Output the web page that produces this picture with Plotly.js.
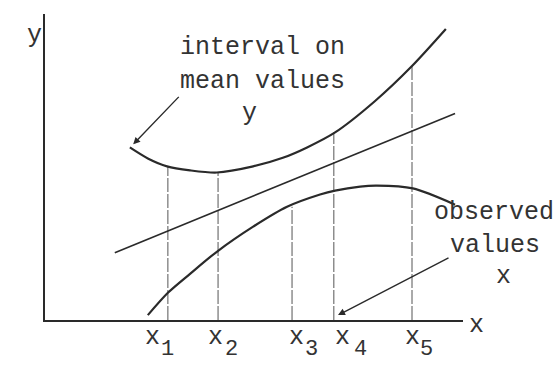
<!DOCTYPE html>
<html>
<head>
<meta charset="utf-8">
<script src="https://cdn.plot.ly/plotly-3.0.1.min.js"></script>
<style>html,body{margin:0;padding:0;background:#fff}#chart{width:559px;height:365px}</style>
</head>
<body>
<div id="chart"></div>
<script>
// ---- data (abstract units: x 0..10, y 0..10) ----
const upperX = [2.03, 2.46, 2.92, 3.47, 4.11, 4.98, 5.69, 6.27, 6.94, 7.89, 8.78, 9.59];
const upperY = [5.64, 5.28, 5.02, 4.89, 4.82, 5.02, 5.30, 5.64, 6.13, 7.15, 8.30, 9.51];
const lowerX = [2.46, 2.94, 3.47, 4.11, 4.98, 5.79, 6.58, 6.94, 7.54, 7.94, 8.80, 9.81];
const lowerY = [0.16, 0.89, 1.51, 2.23, 3.05, 3.70, 4.10, 4.23, 4.36, 4.39, 4.30, 3.77];
const regX = [1.67, 9.81];
const regY = [2.20, 6.75];
const obsX = [2.94, 4.14, 5.91, 6.91, 8.78];
const obsTop = [5.02, 4.82, 3.70, 6.13, 8.30];
const obsLabels = ['1', '2', '3', '4', '5'];

// vertical drop lines built from the arrays
const vx = [], vy = [];
obsX.forEach((x, i) => { vx.push(x, x, null); vy.push(0, obsTop[i], null); });

const ink = '#2a2a2a';
const FONT = {family: 'Liberation Mono, Courier New, monospace', size: 25, color: '#333'};
const SUBFONT = {family: 'Liberation Mono, Courier New, monospace', size: 22, color: '#333'};

const traces = [
  {x: vx, y: vy, mode: 'lines', line: {color: '#555', width: 1, dash: '14px,2px'}, hoverinfo: 'skip'},
  {x: regX, y: regY, mode: 'lines', line: {color: ink, width: 1.6}, hoverinfo: 'skip'},
  {x: upperX, y: upperY, mode: 'lines', line: {color: ink, width: 2.2, shape: 'spline', smoothing: 0.8}, hoverinfo: 'skip'},
  {x: lowerX, y: lowerY, mode: 'lines', line: {color: ink, width: 2.2, shape: 'spline', smoothing: 0.8}, hoverinfo: 'skip'}
];

// paper coordinates (range is 0..10 on both axes)
const P = v => v / 10;
const tickShift = [-15, -3, 4, 9, 0];
const subShift = [0, 13, 19, 27, 14];
const ann = [];
obsX.forEach((x, i) => {
  ann.push({x: P(x), y: P(-0.56), xref: 'paper', yref: 'paper', text: 'x', showarrow: false, xanchor: 'center', yanchor: 'middle', xshift: tickShift[i], font: FONT});
  ann.push({x: P(x), y: P(-0.95), xref: 'paper', yref: 'paper', text: obsLabels[i], showarrow: false, xanchor: 'center', yanchor: 'middle', borderpad: 0, xshift: subShift[i], font: SUBFONT});
});
ann.push(
  {x: P(-0.48), y: P(9.84), xref: 'paper', yref: 'paper', text: 'y', showarrow: false, font: FONT},
  {x: P(10.55), y: P(-0.72), xref: 'paper', yref: 'paper', text: 'x', showarrow: false, font: FONT},
  {x: P(3.18), y: P(9.44), xref: 'paper', yref: 'paper', text: 'interval on', showarrow: false, xanchor: 'left', font: FONT},
  {x: P(3.18), y: P(8.33), xref: 'paper', yref: 'paper', text: 'mean values', showarrow: false, xanchor: 'left', font: FONT},
  {x: P(4.67), y: P(7.30), xref: 'paper', yref: 'paper', text: 'y', showarrow: false, xanchor: 'left', font: FONT},
  {x: P(9.26), y: P(2.98), xref: 'paper', yref: 'paper', text: 'observed', showarrow: false, xanchor: 'left', font: FONT},
  {x: P(9.64), y: P(1.90), xref: 'paper', yref: 'paper', text: 'values', showarrow: false, xanchor: 'left', font: FONT},
  {x: P(10.74), y: P(0.89), xref: 'paper', yref: 'paper', text: 'x', showarrow: false, xanchor: 'left', font: FONT},
  {x: 2.11, y: 5.74, xref: 'x', yref: 'y', text: '', showarrow: true, ax: 47, ay: -49, arrowhead: 2, arrowsize: 1, arrowwidth: 1.4, arrowcolor: ink},
  {x: 7.01, y: 0.16, xref: 'x', yref: 'y', text: '', showarrow: true, ax: 112, ay: -58, arrowhead: 2, arrowsize: 1, arrowwidth: 1.4, arrowcolor: ink}
);

const axisBase = {range: [0, 10], showgrid: false, zeroline: false, showticklabels: false, ticks: '',
  showline: true, linecolor: ink, linewidth: 2, fixedrange: true};

const layout = {
  width: 559, height: 365,
  margin: {l: 45, r: 96, t: 14, b: 45},
  paper_bgcolor: '#fff', plot_bgcolor: '#fff',
  showlegend: false,
  xaxis: Object.assign({}, axisBase),
  yaxis: Object.assign({}, axisBase),
  annotations: ann
};

Plotly.newPlot('chart', traces, layout, {staticPlot: true, displayModeBar: false});
</script>
</body>
</html>
